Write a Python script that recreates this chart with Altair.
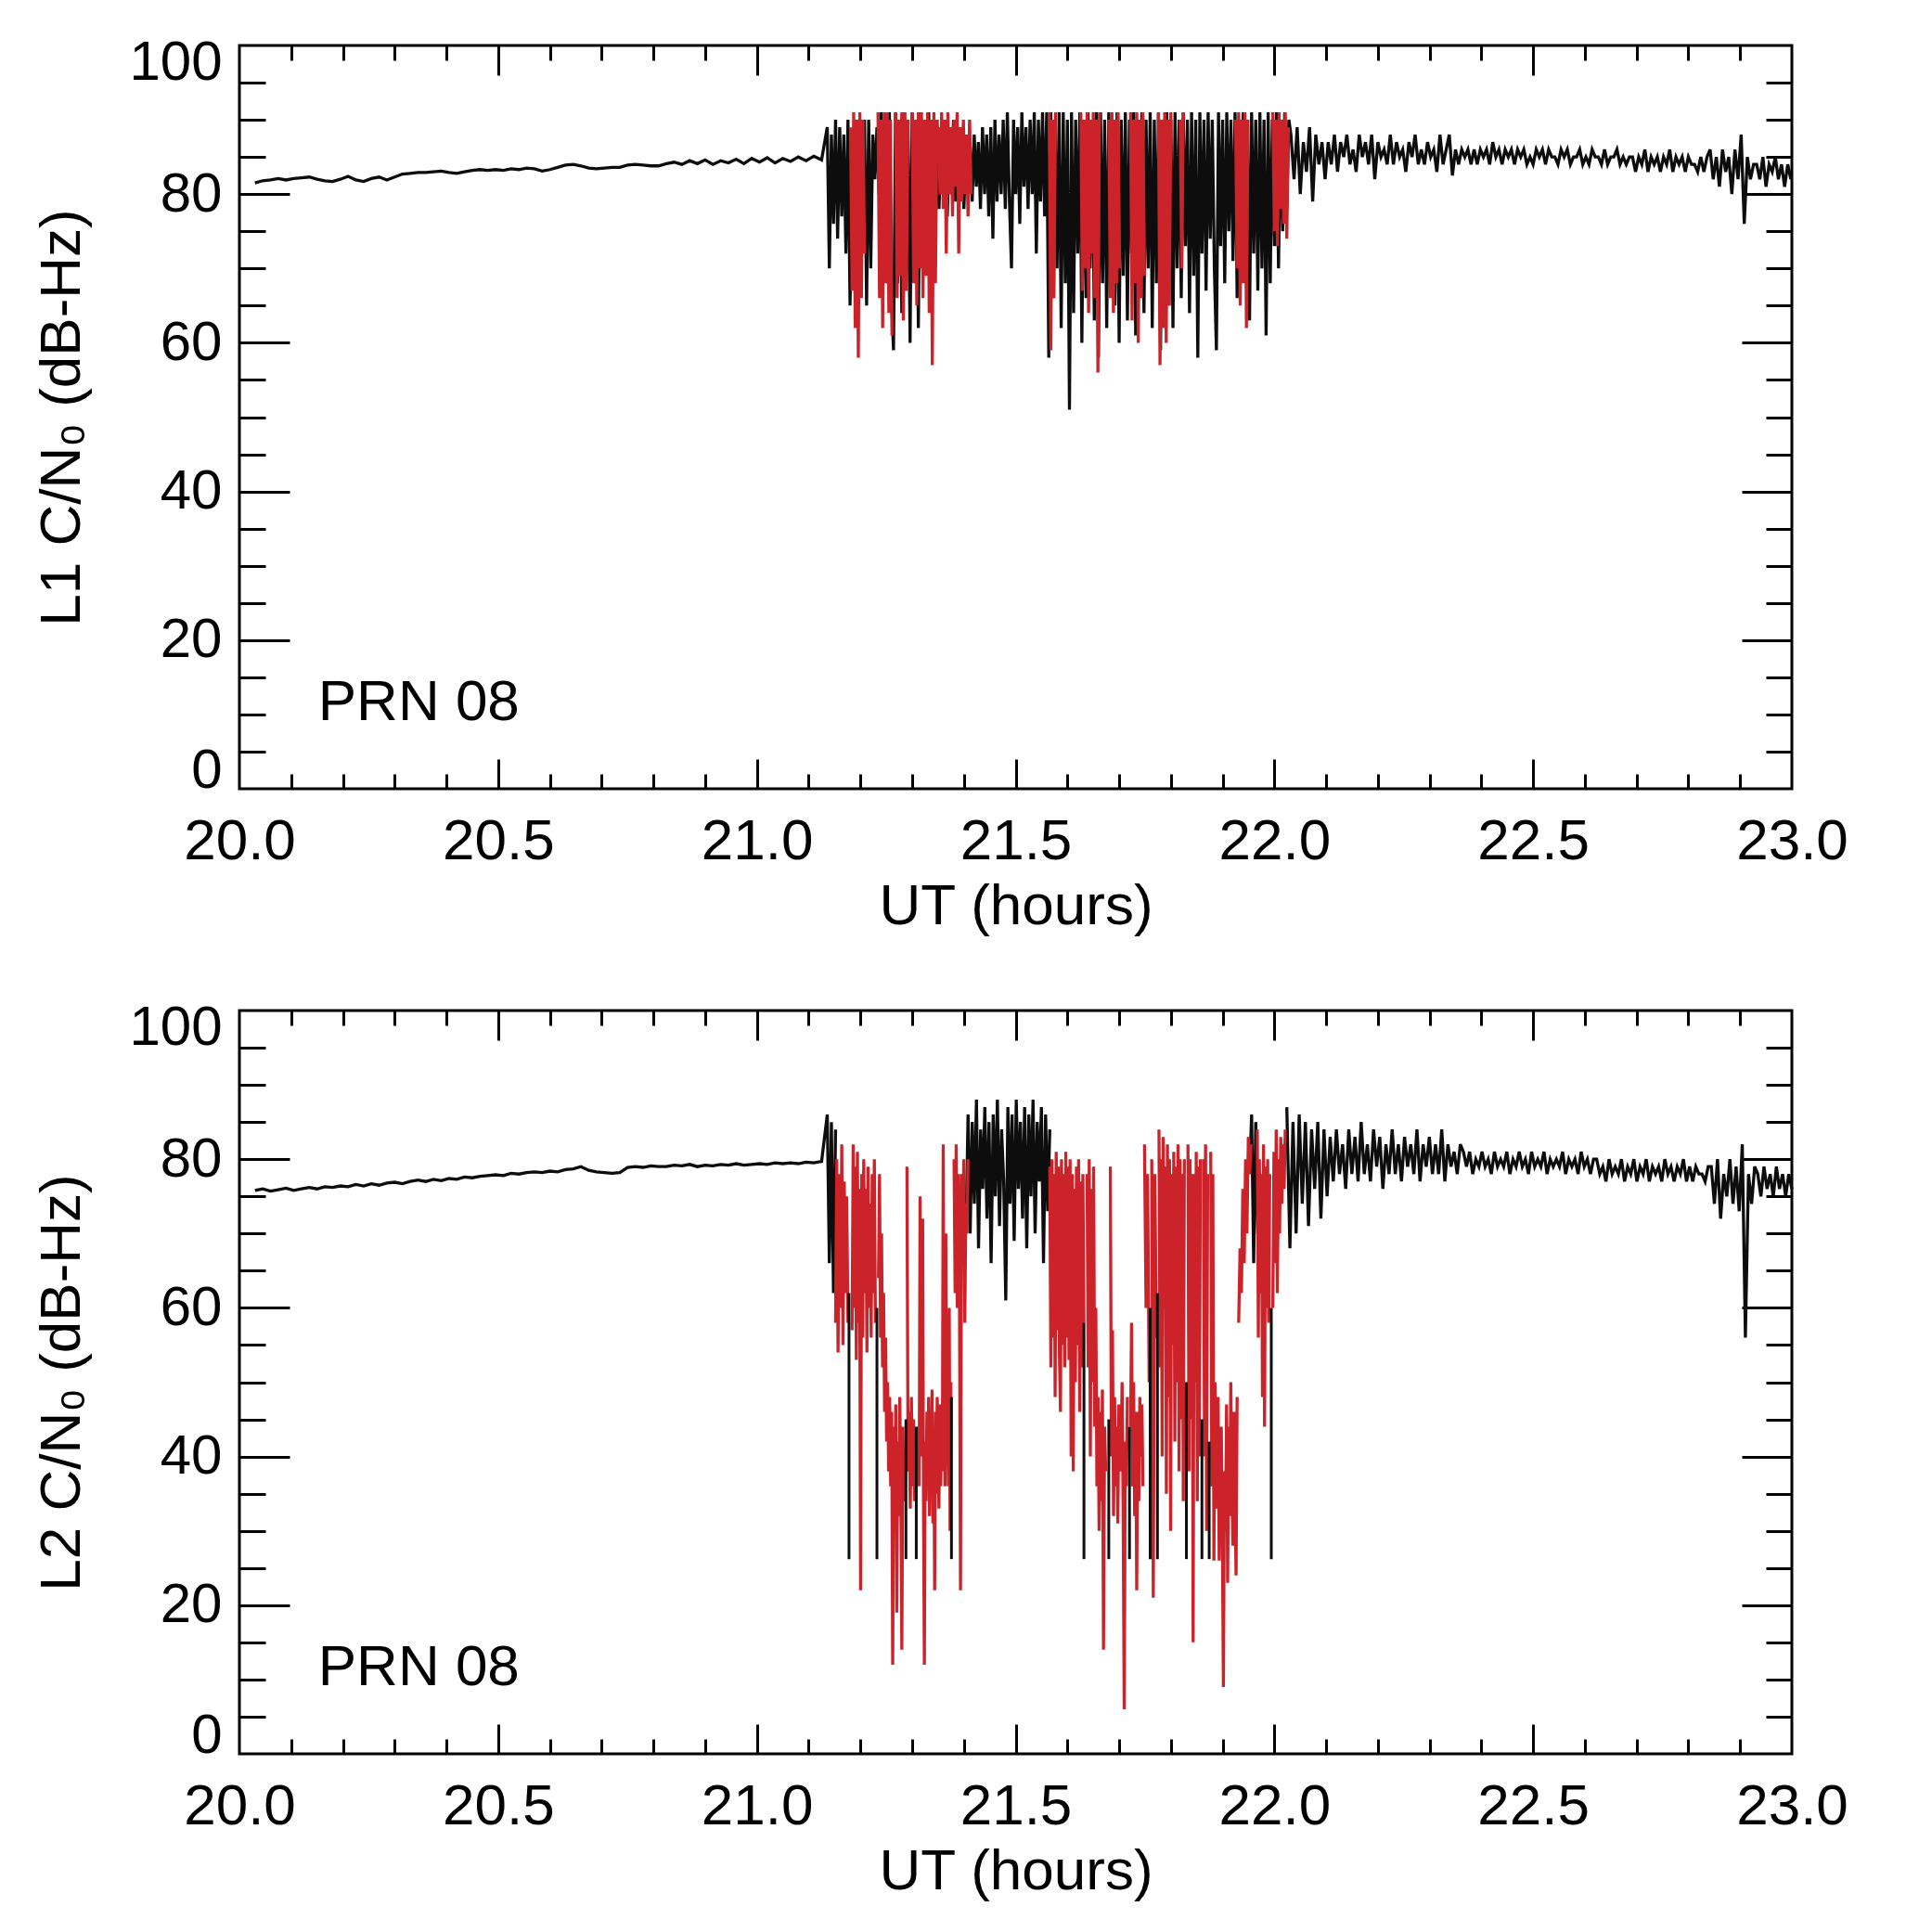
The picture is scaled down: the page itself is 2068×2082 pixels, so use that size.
import altair as alt
import numpy as np
import pandas as pd

FONT = "Liberation Sans"
BLACK = "#0c0d0c"
RED = "#cc2229"
W, H = 1673, 801

X_LABELS = [20.0, 20.5, 21.0, 21.5, 22.0, 22.5, 23.0]
X_MAJOR = [20.5, 21.0, 21.5, 22.0, 22.5]
X_MINOR = [20.1, 20.2, 20.3, 20.4, 20.6, 20.7, 20.8, 20.9, 21.1, 21.2, 21.3, 21.4,
           21.6, 21.7, 21.8, 21.9, 22.1, 22.2, 22.3, 22.4, 22.6, 22.7, 22.8, 22.9]
Y_LABELS = [0, 20, 40, 60, 80, 100]
Y_MAJOR = [20, 40, 60, 80]
Y_MINOR = [5, 10, 15, 25, 30, 35, 45, 50, 55, 65, 70, 75, 85, 90, 95]

PANEL_LABEL = "PRN 08"
X_TITLE = "UT (hours)"
Y_TITLES = ["L1 C/N\u2080 (dB-Hz)", "L2 C/N\u2080 (dB-Hz)"]

# ---------------- L1 (top panel) ----------------
L1_QUIET_SPAN = (20.03, 21.125)
L1_QUIET = [81.5, 81.8, 81.9, 82.1, 81.9, 82.1, 82.2, 82.3, 82.0, 81.8,
            81.7, 82.0, 82.4, 81.9, 81.7, 82.1, 82.3, 81.9, 82.3, 82.7,
            82.8, 82.9, 82.9, 83.0, 83.1, 82.9, 82.8, 83.0, 83.2, 83.3,
            83.2, 83.3, 83.2, 83.4, 83.3, 83.5, 83.4, 83.1, 83.3, 83.6,
            83.9, 84.0, 83.8, 83.5, 83.4, 83.5, 83.6, 83.6, 83.9, 84.0,
            83.9, 83.8, 83.8, 84.1, 84.3, 84.0, 84.5, 84.1, 84.6, 84.0,
            84.5, 84.2, 84.7, 84.1, 84.8, 84.3, 84.9, 84.2, 84.8, 84.4,
            85.0, 84.5, 85.1, 84.6]

L1_ACTIVE_SPAN = (21.136, 22.028)
L1_ACTIVE = [89, 70, 88, 76, 90, 74, 89, 77, 88, 72, 90, 65,
             88, 74, 89, 78, 87, 73, 90,
             65, 90, 70, 88, 82, 89,
             80, 91, 72, 90, 68, 91, 66, 59, 91, 68, 90, 64,
             91, 67, 90, 60, 91, 70, 90, 62, 91, 72, 90, 74, 91, 76, 88, 70, 90,
             78, 89, 80, 90, 77, 88, 80, 90, 79, 88, 81, 89, 78, 86, 80, 87,
             79, 88, 81, 87, 78, 89, 80, 88, 77, 89, 74, 90, 79, 88, 80, 90, 78, 91, 79, 70,
             90, 80, 89, 76, 91, 81, 89, 78, 90, 80, 91, 72, 90, 79, 91, 77, 91,
             58, 91, 66, 90, 70, 91, 62, 91, 68, 90,
             51, 91, 64, 90, 72, 91, 60, 90, 66, 91,
             70, 90, 63, 91, 58, 91, 68, 90, 62, 91,
             71, 90, 65, 91, 60, 90, 69, 91, 63, 90,
             72, 91, 61, 90, 67, 91, 64, 90, 70, 91,
             62, 90, 68, 91, 59, 90, 71, 91, 65, 90,
             62, 91, 70, 90, 66, 91, 73, 90, 64, 91,
             69, 90, 58, 91, 72, 90, 67, 91, 74, 90,
             70, 59, 91, 73, 90, 68, 91, 75, 90, 71,
             91, 66, 90, 74, 91, 69, 90, 63, 91, 72,
             90, 67, 91, 70, 90, 61, 91, 68, 90, 73,
             91, 70, 90, 75, 91, 78, 90]

L1_TAIL_SPAN = (22.032, 22.998)
L1_TAIL = [88, 82, 89, 80, 87, 83, 89, 79, 88, 84, 87, 82,
           87, 84, 88, 83, 87, 85, 88, 84, 86, 83,
           88, 85, 87, 84, 88, 82, 87, 85, 86, 84,
           88, 84, 87, 85, 86, 83, 87, 85, 88, 84,
           86, 84, 87, 85, 86, 83, 88,
           84, 86, 88, 82.5, 86, 84, 86, 85, 86, 84,
           86, 84, 86, 85, 86, 84, 87, 85, 86, 84,
           86, 85, 86, 84, 86, 85, 86, 84, 85, 84,
           86, 85, 86, 84, 86, 85, 85, 84, 86, 85,
           86, 84, 85, 85, 86, 84, 85, 84, 86, 85,
           85, 84, 86, 84, 85, 85, 86, 84, 85, 84, 85,
           85, 83, 85, 84, 86, 83, 85, 84, 85, 83,
           85, 84, 86, 83, 85, 84, 85, 83, 85, 84,
           84, 83, 85, 83, 85,
           86, 82, 85, 81, 86, 83, 85, 80, 86, 82,
           88, 76, 85, 82, 84,
           84, 82, 85, 81, 84, 83, 85, 82, 84, 81, 84, 82]

L1_RED_SPANS = [(21.181, 21.208), (21.234, 21.261), (21.268, 21.292), (21.300, 21.348),
                (21.351, 21.414), (21.565, 21.577), (21.626, 21.662), (21.680, 21.701),
                (21.722, 21.749), (21.776, 21.800), (21.818, 21.824), (21.925, 21.949),
                (21.997, 22.027)]
L1_RED_VALUES = [
    [89, 67, 91, 62, 90, 58, 91, 66, 90, 72],
    [91, 66, 90, 62, 91, 68, 91, 64, 90, 61],
    [91, 66, 90, 69, 91, 63, 91, 67, 90],
    [91, 68, 90, 65, 91, 70, 91, 66, 90, 69, 91, 64, 90, 57, 91, 68, 90],
    [89, 80, 91, 78, 90, 72, 91, 80, 89, 77, 90, 81, 91, 72, 89, 79, 90, 80, 88, 77, 90, 80],
    [91, 59, 90, 66, 91],
    [91, 67, 90, 70, 91, 64, 90, 72, 91, 66, 90, 56, 91],
    [90, 66, 91, 64, 90, 68, 91, 70],
    [91, 63, 90, 68, 91, 60, 90, 66, 91, 69],
    [91, 57, 90, 62, 91, 60, 90, 65, 91],
    [90, 70, 91],
    [90, 70, 91, 65, 90, 68, 91, 62, 90],
    [91, 75, 90, 73, 91, 78, 90, 76, 91, 74, 89],
]

# ---------------- L2 (bottom panel) ----------------
L2_QUIET_SPAN = (20.03, 21.125)
L2_QUIET = [75.8, 76.0, 75.7, 75.9, 76.1, 75.8, 76.0, 76.2, 76.0, 76.3,
            76.2, 76.4, 76.3, 76.6, 76.4, 76.7, 76.5, 76.8, 76.9, 76.7,
            77.0, 77.2, 77.0, 77.3, 77.1, 77.4, 77.3, 77.6, 77.5, 77.7,
            77.8, 77.9, 77.8, 78.1, 78.0, 78.2, 78.3, 78.2, 78.4, 78.3,
            78.6, 78.7, 79.0, 78.5, 78.3, 78.2, 78.1, 78.2, 78.9, 79.0,
            78.9, 79.1, 79.0, 79.0, 79.2, 79.1, 79.3, 79.0, 79.2, 79.1,
            79.3, 79.2, 79.4, 79.2, 79.3, 79.4, 79.3, 79.5, 79.4, 79.5,
            79.4, 79.6, 79.5, 79.7]

L2_BURST_SPAN = (21.136, 21.152)
L2_BURST = [86, 66, 85, 62, 84]

L2_BLOCK_SPAN = (21.404, 21.566)
L2_BLOCK = [70, 86, 70, 85, 74, 88, 68, 84, 76, 87, 72, 85, 66, 86, 75, 88, 71, 84, 77, 61,
            87, 74, 86, 69, 88, 76, 85, 72, 87, 68, 86, 75, 88, 70, 85, 77, 87, 66, 86, 73, 84]

L2_SPIKE_SPAN = (21.952, 21.968)
L2_SPIKE = [78, 86, 66, 85, 70]

L2_TAIL_SPAN = (22.024, 23.0)
L2_TAIL = [87, 68, 85, 70, 86,
           74, 85, 71, 84, 76, 85, 72, 84, 75,
           83, 77, 84, 78, 82, 76, 84, 78, 83, 77,
           85, 78, 82, 77, 84, 79, 83, 76, 82, 78,
           84, 78, 82, 77, 83, 79, 82, 78, 84, 77,
           82, 79, 83, 78, 82, 78, 84, 77, 82, 79, 81, 78, 82,
           81, 79, 81, 78, 80, 79, 81, 79, 80, 78,
           81, 79, 80, 79, 81, 78, 80, 79, 81, 79,
           80, 78, 81, 79, 80, 79, 81, 78, 80, 79,
           80, 79, 81, 78, 80, 79, 80, 78, 81, 79, 80, 78, 80,
           80, 78, 79, 77, 80, 78, 79, 78, 80, 77,
           79, 78, 80, 77, 79, 78, 80, 77, 79, 78,
           79, 77, 80, 78, 79, 77, 79, 78, 80, 77, 79, 77, 79, 78, 78, 77, 79,
           79, 74, 80, 72, 78, 75, 80, 74, 79, 73,
           82, 56, 78, 74, 79,
           78, 75, 79, 76, 78, 75, 79, 76, 78, 75, 78, 76]

# black drop-outs to the loss-of-lock floor (L2)
L2_DROP_T = [21.178, 21.232, 21.288, 21.308, 21.376, 21.632, 21.680, 21.720,
             21.760, 21.774, 21.830, 21.860, 21.874, 21.994]
L2_DROP_TOP = [62, 60, 45, 44, 48, 58, 45, 44, 60, 62, 50, 45, 42, 60]
L2_DROP_FLOOR = [26.2, 26.2, 26.2, 26.2, 26.2, 26.2, 26.2, 26.2,
                 26.2, 26.2, 26.2, 26.2, 26.2, 26.2]

L2_RED_SPANS = [(21.152, 21.176), (21.184, 21.229), (21.235, 21.284), (21.290, 21.305),
                (21.312, 21.375), (21.381, 21.408), (21.566, 21.632), (21.638, 21.674),
                (21.683, 21.716), (21.722, 21.746), (21.749, 21.758), (21.763, 21.772),
                (21.777, 21.826), (21.833, 21.857), (21.863, 21.871), (21.877, 21.928),
                (21.931, 21.955), (21.967, 21.991), (21.997, 22.021)]
L2_RED_VALUES = [
    [58, 80, 54, 78, 60, 82, 55, 77, 62, 75, 58],
    [57, 82, 60, 79, 53, 81, 58, 76, 22, 78, 56, 80, 62, 76, 54, 79, 60, 74, 56, 78, 62, 80, 58],
    [64, 78, 56, 70, 52, 62, 46, 56, 42, 50, 38, 48, 36, 46, 12, 44, 33, 47, 19, 42, 32, 48,
     35, 14, 44, 34],
    [79, 38, 46, 33, 48, 36, 45, 34],
    [44, 36, 75, 40, 48, 72, 34, 12, 42, 34, 46, 38, 48, 32, 45, 36, 49, 31, 44, 22, 46, 35,
     48, 40, 33, 47, 36, 44, 38, 82, 48, 36, 70, 40, 46, 36, 60, 30, 50],
    [80, 62, 82, 60, 78, 64, 22, 78, 66, 80, 58, 74, 70, 80],
    [79, 52, 80, 56, 78, 48, 81, 57, 79, 54, 46, 80, 55, 78, 52, 81, 56, 79, 53, 80, 40, 78,
     38, 76, 50, 79, 55, 80, 46, 77, 52, 78, 58],
    [78, 52, 80, 40, 76, 50, 79, 44, 60, 36, 48, 30, 46, 34, 49, 14, 44, 38],
    [79, 40, 57, 32, 48, 36, 44, 31, 47, 40, 38, 50, 33, 6, 42, 36, 48],
    [44, 58, 36, 50, 32, 46, 22, 46, 34, 48, 40, 47, 36],
    [82, 60, 78, 50],
    [80, 21, 78, 56],
    [84, 52, 80, 40, 83, 60, 79, 35, 82, 48, 80, 30, 78, 55, 81, 42, 79, 50, 82, 38, 80, 45,
     78, 34, 80],
    [82, 38, 80, 45, 78, 15, 78, 50, 81, 34, 79, 40, 80],
    [80, 40, 82, 30, 78],
    [81, 36, 78, 26, 50, 42, 33, 48, 26, 40, 44, 30, 9, 38, 30, 47, 23, 44, 32, 50, 36, 28,
     46, 34, 24, 48],
    [58, 68, 62, 76, 66, 80, 70, 83, 78, 82],
    [84, 56, 80, 62, 78, 48, 82, 44, 79, 60, 80, 58, 78],
    [60, 81, 66, 84, 62, 80, 70, 83, 74, 82, 76, 84],
]


def series_frame(parts):
    frames = []
    for span, vals, seg in parts:
        frames.append(pd.DataFrame({"t": np.linspace(span[0], span[1], len(vals)),
                                    "v": np.asarray(vals, dtype=float),
                                    "seg": seg}))
    return pd.concat(frames, ignore_index=True)


def red_frame(spans, values):
    return series_frame([(s, v, k) for k, (s, v) in enumerate(zip(spans, values))])


XS = alt.Scale(domain=[20, 23], nice=False, zero=False)
YS = alt.Scale(domain=[0, 100], nice=False, zero=False)
CORNER = pd.DataFrame({"t": [20.0], "v": [0.0]})


def tick_layer(xvals, yvals, xsize, ysize, xorient, yorient):
    return alt.Chart(CORNER).mark_point(opacity=0).encode(
        x=alt.X("t:Q", scale=XS, title="",
                axis=alt.Axis(orient=xorient, offset=-H, values=xvals, labels=False,
                              domain=False, grid=False, ticks=True, tickSize=xsize,
                              tickWidth=3, tickColor="black")),
        y=alt.Y("v:Q", scale=YS, title="",
                axis=alt.Axis(orient=yorient, offset=-W, values=yvals, labels=False,
                              domain=False, grid=False, ticks=True, tickSize=ysize,
                              tickWidth=3, tickColor="black")),
    )


def panel(black_df, red_df, ytitle, drops_df=None):
    black = alt.Chart(black_df).mark_line(color=BLACK, strokeWidth=3.3, strokeJoin="miter").encode(
        x=alt.X("t:Q", scale=XS, title=X_TITLE,
                axis=alt.Axis(orient="bottom", values=X_LABELS, format=".1f", ticks=False,
                              tickSize=0, domain=False, grid=False, labelFlush=False,
                              labelOverlap=False, labelPadding=26, labelFontSize=62,
                              titlePadding=9)),
        y=alt.Y("v:Q", scale=YS, title=ytitle,
                axis=alt.Axis(orient="left", values=Y_LABELS, format="d", ticks=False,
                              tickSize=0, domain=False, grid=False, labelFlush=True,
                              labelFlushOffset=11, labelOverlap=False, labelPadding=19,
                              labelFontSize=60, titlePadding=40)),
        detail="seg:N",
    )
    red = alt.Chart(red_df).mark_line(color=RED, strokeWidth=3.3, strokeJoin="miter").encode(
        x=alt.X("t:Q", scale=XS, axis=None),
        y=alt.Y("v:Q", scale=YS, axis=None),
        detail="seg:N",
    )
    label = alt.Chart(pd.DataFrame({"label": [PANEL_LABEL]})).mark_text(
        align="left", baseline="middle", fontSize=62, font=FONT, color="black"
    ).encode(x=alt.XDatum(20.152, axis=None), y=alt.YDatum(11.6, axis=None), text="label:N")
    layers = [black, red]
    if drops_df is not None:
        layers.append(alt.Chart(drops_df).mark_rule(color=BLACK, strokeWidth=3).encode(
            x=alt.X("t:Q", scale=XS, axis=None),
            y=alt.Y("top:Q", scale=YS, axis=None),
            y2="floor:Q",
        ))
    layers += [
        label,
        tick_layer(X_MAJOR, Y_MAJOR, 32, 54, "top", "right"),
        tick_layer(X_MINOR, Y_MINOR, 16, 28, "top", "right"),
        tick_layer(X_MAJOR, Y_MAJOR, 32, 54, "bottom", "left"),
        tick_layer(X_MINOR, Y_MINOR, 16, 28, "bottom", "left"),
    ]
    return alt.layer(*layers).resolve_axis(x="independent", y="independent").properties(
        width=W, height=H)


top = panel(series_frame([(L1_QUIET_SPAN, L1_QUIET, 0), (L1_ACTIVE_SPAN, L1_ACTIVE, 0),
                          (L1_TAIL_SPAN, L1_TAIL, 0)]),
            red_frame(L1_RED_SPANS, L1_RED_VALUES), Y_TITLES[0])
bottom = panel(series_frame([(L2_QUIET_SPAN, L2_QUIET, 0), (L2_BURST_SPAN, L2_BURST, 0),
                             (L2_BLOCK_SPAN, L2_BLOCK, 1), (L2_SPIKE_SPAN, L2_SPIKE, 2),
                             (L2_TAIL_SPAN, L2_TAIL, 3)]),
               red_frame(L2_RED_SPANS, L2_RED_VALUES), Y_TITLES[1],
               pd.DataFrame({"t": L2_DROP_T, "top": L2_DROP_TOP, "floor": L2_DROP_FLOOR}))

chart = alt.vconcat(top, bottom, spacing=66).properties(
    padding={"left": 26, "top": 27, "right": 10, "bottom": 5}
).configure_view(stroke="black", strokeWidth=3).configure_axis(
    labelFont=FONT, labelColor="black",
    titleFont=FONT, titleFontSize=62, titleColor="black", titleFontWeight="normal"
)

chart.save("out.html", embed_options={"renderer": "svg", "actions": False})
